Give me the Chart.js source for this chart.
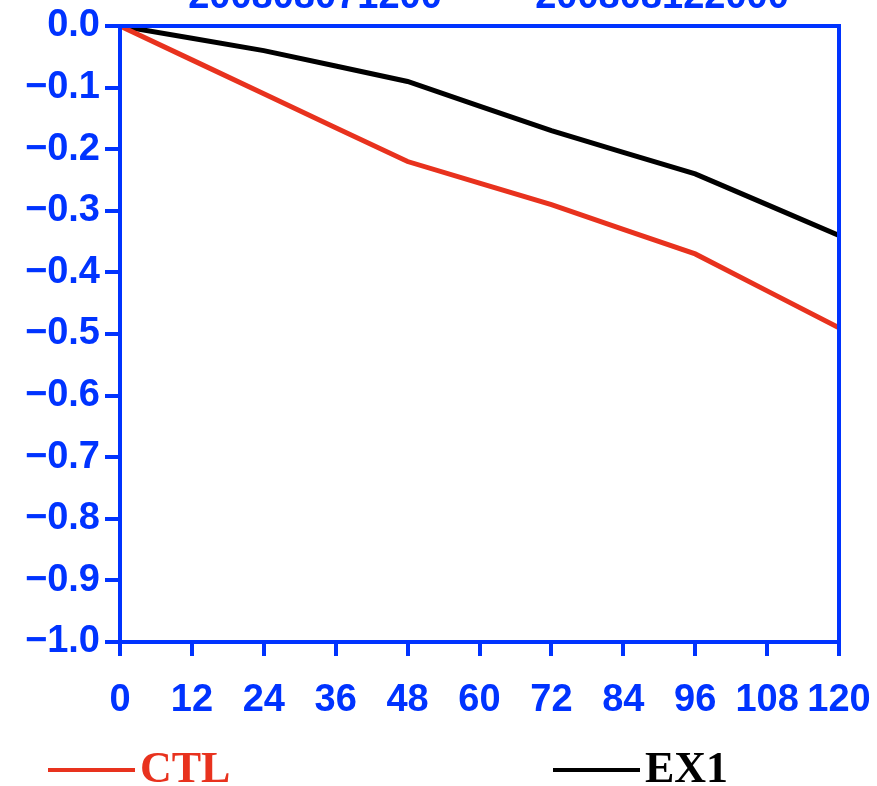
<!DOCTYPE html>
<html>
<head>
<meta charset="utf-8">
<script src="https://cdn.jsdelivr.net/npm/chart.js@4"></script>
<style>
  html, body { margin: 0; padding: 0; background: #fff; }
  #wrap { width: 877px; height: 786px; }
</style>
</head>
<body>
<div id="wrap"><canvas id="c" width="877" height="786"></canvas></div>
<script>
const hours = [0, 12, 24, 36, 48, 60, 72, 84, 96, 108, 120];
const ctlValues = [0, -0.055, -0.11, -0.165, -0.22, -0.255, -0.29, -0.33, -0.37, -0.43, -0.49];
const ex1Values = [0, -0.02, -0.04, -0.065, -0.09, -0.13, -0.17, -0.205, -0.24, -0.29, -0.34];
const seriesNames = ['CTL', 'EX1'];
const seriesColors = ['#e8321e', '#000000'];
const yTicks = [0.0, -0.1, -0.2, -0.3, -0.4, -0.5, -0.6, -0.7, -0.8, -0.9, -1.0];
const titleTexts = ['200808071200', '200808122000'];

const BLUE = '#0033ff';
const tickFont = { family: 'Liberation Sans', weight: 'bold', size: 38 };

const framePlugin = {
  id: 'frame',
  afterDraw(chart) {
    const { ctx, chartArea: a } = chart;
    ctx.save();
    ctx.strokeStyle = BLUE;
    ctx.lineWidth = 4;
    ctx.strokeRect(a.left, a.top, a.right - a.left, a.bottom - a.top);
    ctx.fillStyle = BLUE;
    ctx.font = 'bold 38px "Liberation Sans"';
    ctx.textAlign = 'center';
    ctx.textBaseline = 'alphabetic';
    ctx.fillText(titleTexts[0], 315, 8);
    ctx.fillText(titleTexts[1], 662, 8);
    const items = [{ x: 48 }, { x: 553 }];
    chart.data.datasets.forEach((ds, i) => {
      const x0 = items[i].x, y = 770;
      ctx.strokeStyle = ds.borderColor;
      ctx.lineWidth = 4;
      ctx.beginPath();
      ctx.moveTo(x0, y);
      ctx.lineTo(x0 + 87, y);
      ctx.stroke();
      ctx.fillStyle = ds.borderColor;
      ctx.font = 'bold 44px "Liberation Serif"';
      ctx.textAlign = 'left';
      ctx.textBaseline = 'middle';
      ctx.fillText(ds.label, x0 + 92, y + 1);
    });
    ctx.restore();
  }
};

new Chart(document.getElementById('c'), {
  type: 'line',
  data: {
    datasets: [
      { label: seriesNames[0], data: hours.map((h, i) => ({ x: h, y: ctlValues[i] })),
        borderColor: seriesColors[0], borderWidth: 5, pointRadius: 0, tension: 0 },
      { label: seriesNames[1], data: hours.map((h, i) => ({ x: h, y: ex1Values[i] })),
        borderColor: seriesColors[1], borderWidth: 5, pointRadius: 0, tension: 0 }
    ]
  },
  options: {
    responsive: false,
    animation: false,
    layout: { padding: { top: 26, right: 38, left: 0, bottom: 0 } },
    plugins: { legend: { display: false }, tooltip: { enabled: false } },
    scales: {
      x: {
        type: 'linear', min: 0, max: 120,
        afterBuildTicks(scale) { scale.ticks = hours.map(v => ({ value: v })); },
        afterFit(scale) { scale.height = 144; scale.paddingRight = 0; scale.paddingLeft = 0; },
        grid: { drawOnChartArea: false, color: BLUE, lineWidth: 4, tickLength: 14, tickWidth: 4 },
        border: { color: BLUE, width: 4 },
        ticks: { color: BLUE, font: tickFont, padding: 22, maxRotation: 0, autoSkip: false,
                 callback: v => String(v) }
      },
      y: {
        type: 'linear', min: -1.0, max: 0.0,
        afterBuildTicks(scale) { scale.ticks = yTicks.map(v => ({ value: v })); },
        afterFit(scale) { scale.width = 120; scale.paddingTop = 0; scale.paddingBottom = 0; },
        grid: { drawOnChartArea: false, color: BLUE, lineWidth: 4, tickLength: 15, tickWidth: 4 },
        border: { color: BLUE, width: 4 },
        ticks: { color: BLUE, font: tickFont, padding: 5, autoSkip: false,
                 callback: v => (v < 0 ? '\u2212' : '') + Math.abs(v).toFixed(1) }
      }
    }
  },
  plugins: [framePlugin]
});
</script>
</body>
</html>
